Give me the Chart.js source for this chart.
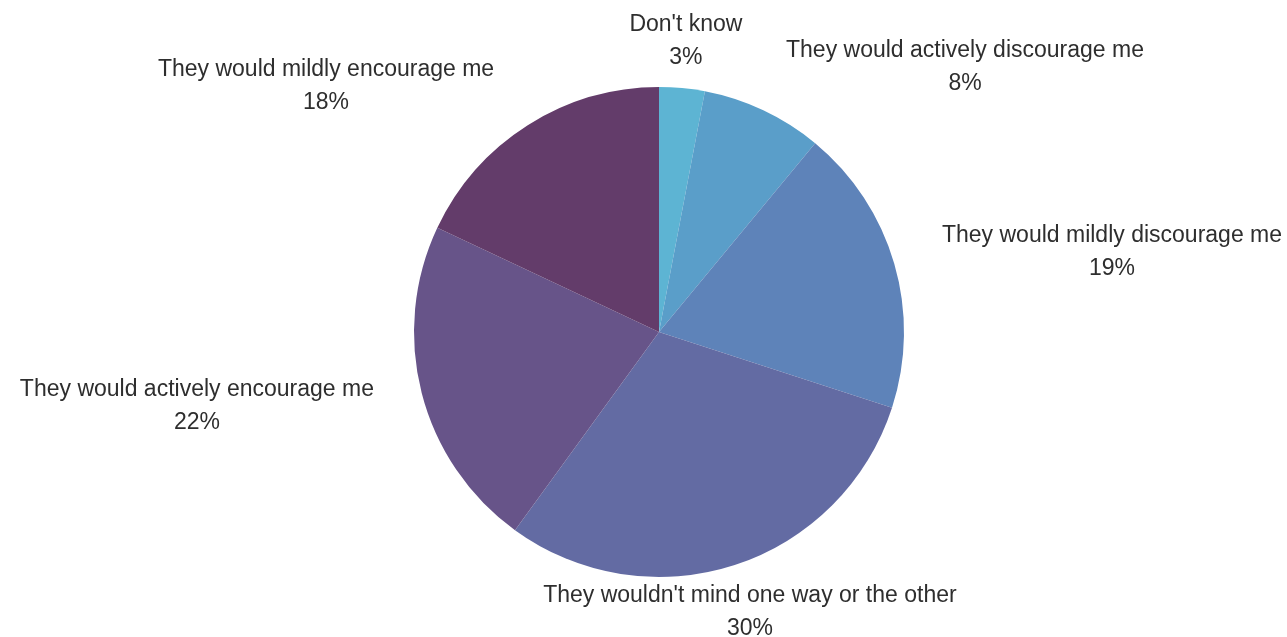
<!DOCTYPE html>
<html>
<head>
<meta charset="utf-8">
<script src="https://cdn.jsdelivr.net/npm/chart.js@4/dist/chart.umd.min.js"></script>
<style>
  html, body { margin: 0; padding: 0; background: #fff; }
  #wrap { width: 1287px; height: 637px; position: relative; }
</style>
</head>
<body>
<div id="wrap"><canvas id="pieChart"></canvas></div>
<script>
const categories = [
  "Don't know",
  'They would actively discourage me',
  'They would mildly discourage me',
  "They wouldn't mind one way or the other",
  'They would actively encourage me',
  'They would mildly encourage me'
]
const percentages = [3, 8, 19, 30, 22, 18]

const sliceColors = ['#5db4d3', '#5a9ec9', '#5e83b9', '#636ba3', '#675489', '#633c6a']

// where each label sits, relative to the pie centre, in units of the radius
const labelOffsets = [
  [0.110, -1.253],
  [1.249, -1.147],
  [1.849, -0.392],
  [0.371, 1.077],
  [-1.886, 0.237],
  [-1.359, -1.070]
]

const textColor = '#2e2e2e'
const fontSize = 23
const lineGap = 33

// draw the two-line labels outside the pie
const outsideLabels = {
  id: 'outsideLabels',
  afterDatasetsDraw(chart) {
    var ctx = chart.ctx
    var arcs = chart.getDatasetMeta(0).data
    if (!arcs.length) return
    var cx = arcs[0].x
    var cy = arcs[0].y
    var r = arcs[0].outerRadius
    ctx.save()
    ctx.fillStyle = textColor
    ctx.font = fontSize + 'px "Liberation Sans", Arial, sans-serif'
    ctx.textAlign = 'center'
    ctx.textBaseline = 'middle'
    for (var i = 0; i < categories.length; i++) {
      var x = cx + labelOffsets[i][0] * r
      var y = cy + labelOffsets[i][1] * r
      ctx.fillText(categories[i], x, y)
      ctx.fillText(percentages[i] + '%', x, y + lineGap)
    }
    ctx.restore()
  }
}

var ctx = document.getElementById('pieChart')
var pieChart = new Chart(ctx, {
  type: 'pie',
  data: {
    labels: categories,
    datasets: [{
      data: percentages,
      backgroundColor: sliceColors,
      borderWidth: 0
    }]
  },
  options: {
    responsive: true,
    maintainAspectRatio: false,
    animation: false,
    layout: { padding: { top: 87, bottom: 60, left: 31, right: 0 } },
    plugins: {
      legend: { display: false },
      tooltip: { enabled: false }
    }
  },
  plugins: [outsideLabels]
})
</script>
</body>
</html>
